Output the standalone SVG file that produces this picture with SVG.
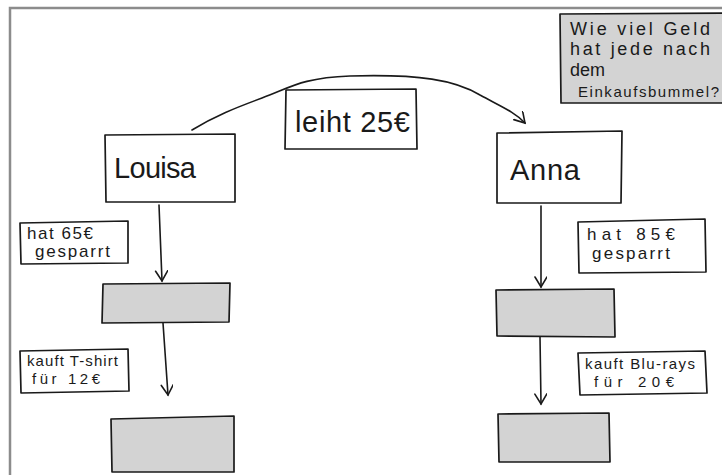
<svg xmlns="http://www.w3.org/2000/svg" width="722" height="475" viewBox="0 0 722 475">
<defs>
<style>
.frame{fill:#ffffff;stroke:#8c8c8c;stroke-width:2.5}
.box{fill:#ffffff;stroke:#1a1a1a;stroke-width:1.7;stroke-linejoin:round}
.gbox{fill:#d3d3d3;stroke:#1a1a1a;stroke-width:1.7;stroke-linejoin:round}
.conn{fill:none;stroke:#1a1a1a;stroke-width:1.6;stroke-linecap:round}
text{font-family:"Liberation Sans","DejaVu Sans",sans-serif;fill:#1a1a1a}
.big{font-size:29px}
.q{font-size:18px}
.lab{font-size:17px}
.labs{font-size:15px}
</style>
<marker id="arr" markerWidth="14" markerHeight="14" refX="11" refY="6" orient="auto" markerUnits="userSpaceOnUse">
<path d="M1,0 L11,6 L1,12" fill="none" stroke="#1a1a1a" stroke-width="1.6" stroke-linecap="round"/>
</marker>
</defs>
<rect width="722" height="475" fill="#ffffff"/>
<rect class="frame" x="10" y="8" width="800" height="600"/>

<g id="question">
<path class="gbox" d="M560,14 L730,13 L730,103 L561,103 Z"/>
<text class="q" x="570" y="35" textLength="140" lengthAdjust="spacing">Wie viel Geld</text>
<text class="q" x="570" y="55" textLength="140" lengthAdjust="spacing">hat jede nach</text>
<text class="q" x="570" y="76">dem</text>
<text class="labs" x="578" y="97" textLength="141" lengthAdjust="spacing">Einkaufsbummel?</text>
</g>

<g id="louisa">
<path class="box" d="M105,135 L235,134 L235,202 L106,202 Z"/>
<text class="big" x="114" y="178" textLength="82" lengthAdjust="spacing">Louisa</text>
</g>

<g id="anna">
<path class="box" d="M497,133 L622,131 L621,203 L497,203 Z"/>
<text class="big" x="510" y="180" textLength="70" lengthAdjust="spacing">Anna</text>
</g>

<g id="leiht">
<path class="box" d="M286,90 L416,89 L417,149 L285,149 Z"/>
<text class="big" x="295" y="132" textLength="115" lengthAdjust="spacing">leiht 25€</text>
</g>

<g id="louisa-spart">
<path class="box" d="M20,223 L128,221 L128,263 L21,264 Z"/>
<text class="lab" x="27" y="239" textLength="66" lengthAdjust="spacing">hat 65€</text>
<text class="lab" x="35" y="257" textLength="75" lengthAdjust="spacing">gesparrt</text>
</g>

<g id="louisa-kauft">
<path class="box" d="M20,351 L128,349 L129,391 L21,393 Z"/>
<text class="labs" x="27" y="366" textLength="91" lengthAdjust="spacing">kauft T-shirt</text>
<text class="labs" x="32" y="384" textLength="68" lengthAdjust="spacing">für 12€</text>
</g>

<g id="anna-spart">
<path class="box" d="M578,222 L705,219 L706,272 L579,273 Z"/>
<text class="lab" x="587" y="240" textLength="88" lengthAdjust="spacing">hat 85€</text>
<text class="lab" x="592" y="259" textLength="78" lengthAdjust="spacing">gesparrt</text>
</g>

<g id="anna-kauft">
<path class="box" d="M578,353 L705,351 L707,393 L580,395 Z"/>
<text class="labs" x="585" y="369" textLength="110" lengthAdjust="spacing">kauft Blu-rays</text>
<text class="labs" x="594" y="387" textLength="80" lengthAdjust="spacing">für  20€</text>
</g>

<g id="louisa-1">
<path class="gbox" d="M103,284 L230,283 L229,322 L102,323 Z"/>
</g>
<g id="louisa-2">
<path class="gbox" d="M111,419 L234,416 L234,472 L112,472 Z"/>
</g>
<g id="anna-1">
<path class="gbox" d="M496,290 L614,289 L615,337 L497,336 Z"/>
</g>
<g id="anna-2">
<path class="gbox" d="M498,414 L609,413 L610,462 L499,462 Z"/>
</g>

<g id="connectors">
<path class="conn" marker-end="url(#arr)" d="M192,130 C215,116 235,108 262,98 C290,88 300,78 350,76 C420,74 455,80 480,95 C500,106 515,112 525,123"/>
<path class="conn" marker-end="url(#arr)" d="M159,205 L162,281"/>
<path class="conn" marker-end="url(#arr)" d="M163,323 L168,395"/>
<path class="conn" marker-end="url(#arr)" d="M541,206 L541,287"/>
<path class="conn" marker-end="url(#arr)" d="M540,337 L541,404"/>
</g>
</svg>
